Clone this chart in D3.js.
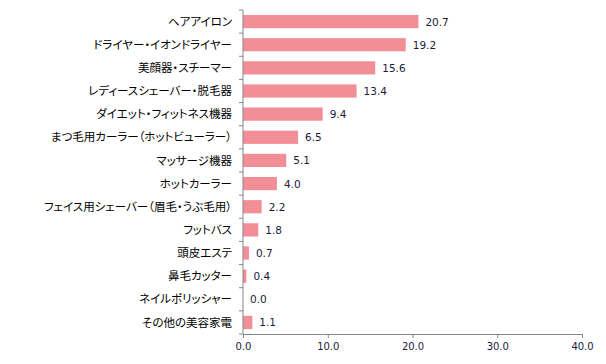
<!DOCTYPE html>
<html>
<head>
<meta charset="utf-8">
<script src="https://d3js.org/d3.v7.min.js"></script>
<style>
  body { margin: 0; background: #fff; }
  .axis path, .axis line { stroke: #868686; }
  .cat text { font-family: "Noto Sans CJK JP", sans-serif; font-size: 11.5px; fill: #000; font-feature-settings: "palt"; }
  .xax text { font-family: "DejaVu Sans", sans-serif; font-size: 10px; fill: #1b1b3a; }
  .val { font-family: "DejaVu Sans", sans-serif; font-size: 10.5px; fill: #1b1b3a; }
  .bar { fill: #f28e96; }
</style>
</head>
<body>
<div id="chart"></div>
<script>
// カテゴリと値
var categories = ["ヘアアイロン", "ドライヤー・イオンドライヤー", "美顔器・スチーマー", "レディースシェーバー・脱毛器",
  "ダイエット・フィットネス機器", "まつ毛用カーラー（ホットビューラー）", "マッサージ機器", "ホットカーラー",
  "フェイス用シェーバー（眉毛・うぶ毛用）", "フットバス", "頭皮エステ", "鼻毛カッター", "ネイルポリッシャー", "その他の美容家電"];
var values = [20.7, 19.2, 15.6, 13.4, 9.4, 6.5, 5.1, 4.0, 2.2, 1.8, 0.7, 0.4, 0.0, 1.1];
var xTicks = [0, 10, 20, 30, 40];

var W = 606, H = 364;
var margin = {top: 10, right: 24, bottom: 30, left: 243};
var width = W - margin.left - margin.right,
    height = H - margin.top - margin.bottom;

var svg = d3.select("#chart").append("svg").attr("width", W).attr("height", H);
var g = svg.append("g").attr("transform", "translate(" + margin.left + "," + margin.top + ")");

var x = d3.scaleLinear().domain([0, 40]).range([0, 339]);
var y = d3.scaleBand().domain(categories).range([0, height]).paddingInner(0.43).paddingOuter(0.215);

// bars
g.selectAll(".bar")
  .data(values)
  .enter()
  .append("rect")
  .attr("class", "bar")
  .attr("x", x(0))
  .attr("y", function(d, i) { return y(categories[i]); })
  .attr("width", function(d) { return x(d) - x(0); })
  .attr("height", y.bandwidth());

// value labels
g.selectAll(".val")
  .data(values)
  .enter()
  .append("text")
  .attr("class", "val")
  .attr("x", function(d) { return x(d) + 7; })
  .attr("y", function(d, i) { return y(categories[i]) + y.bandwidth() / 2; })
  .attr("dy", "0.38em")
  .text(function(d) { return d.toFixed(1); });

// x axis
var xa = g.append("g")
  .attr("class", "axis xax")
  .attr("transform", "translate(0," + height + ")")
  .call(d3.axisBottom(x).tickValues(xTicks).tickFormat(d3.format(".1f")).tickSize(4).tickSizeOuter(0).tickPadding(5));

// y axis: tick marks at category boundaries, labels centred
var ya = g.append("g").attr("class", "axis cat");
ya.append("line").attr("x1", 0).attr("x2", 0).attr("y1", 0).attr("y2", height);
var step = height / categories.length;
d3.range(categories.length + 1).forEach(function(i) {
  ya.append("line").attr("x1", -4).attr("x2", 0).attr("y1", i * step).attr("y2", i * step);
});
ya.selectAll("text")
  .data(categories)
  .enter()
  .append("text")
  .attr("x", -11)
  .attr("y", function(d) { return y(d) + y.bandwidth() / 2; })
  .attr("dy", "0.36em")
  .attr("text-anchor", "end")
  .text(function(d) { return d; });
</script>
</body>
</html>
